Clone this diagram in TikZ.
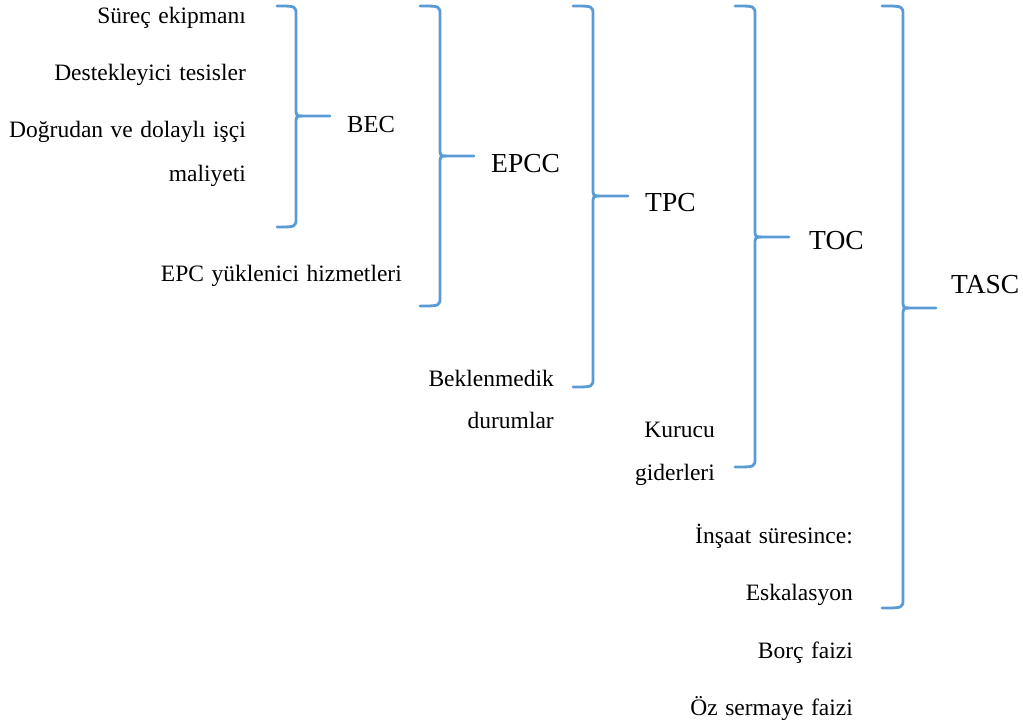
\documentclass[tikz,border=0pt]{standalone}
\usepackage{fontspec}
\setmainfont{Liberation Serif}
\definecolor{bracecol}{HTML}{5B9BD5}
\newcommand\itemfont{\fontsize{23.5}{27}\selectfont\spaceskip 7.5pt plus 1pt minus 1pt\relax}
\tikzset{
 small/.style={font=\itemfont, inner sep=0pt, anchor=base east},
 big/.style={font=\fontsize{27.5}{31}\selectfont, inner sep=0pt, anchor=base west},
 bracepath/.style={draw=bracecol, line width=2.8pt, line cap=round, line join=round}
}
\newcommand\drawbrace[6]{% x0, xs, ytop, ymid, ybot, xtip
 \draw[bracepath] (#1,#3) .. controls (#2,#3) .. (#2,#3+9) -- (#2,#4-9) .. controls (#2,#4) .. (#2+6,#4) -- (#6,#4);
 \draw[bracepath] (#2+6,#4) .. controls (#2,#4) .. (#2,#4+9) -- (#2,#5-9) .. controls (#2,#5) .. (#1,#5);
}
\begin{document}
\begin{tikzpicture}[x=1pt,y=-1pt]
\useasboundingbox (0,0) rectangle (1023,722);
% braces
\drawbrace{277}{296}{6}{116}{227}{330}
\drawbrace{420}{440}{6}{156}{306}{474}
\drawbrace{573}{593}{6}{196}{387}{628}
\drawbrace{735}{755}{6}{237}{467}{789}
\drawbrace{882}{903}{6}{308}{608}{936}
% level 1 items
\node[small] (s1) at (246,24) {Süreç ekipmanı};
\node[small] (s2) at (246,81) {Destekleyici tesisler};
\node[small] (s3) at (246,138) {Doğrudan ve dolaylı işçi};
\node[small] (s4) at (246,182) {maliyeti};
\node[small] (epc) at (402,281) {EPC yüklenici hizmetleri};
\node[small] (bk1) at (554,386) {Beklenmedik};
\node[small] (bk2) at (554,428) {durumlar};
\node[small] (ku1) at (715,437) {Kurucu};
\node[small] (ku2) at (715,480) {giderleri};
\node[small] (in1) at (853,543) {İnşaat süresince:};
\node[small] (in2) at (853,600) {Eskalasyon};
\node[small] (in3) at (853,658) {Borç faizi};
\node[small] (in4) at (853,715) {Öz sermaye faizi};
% labels
\node[big, font=\fontsize{24.5}{28}\selectfont] (bec) at (347,133) {BEC};
\node[big] (epcc) at (491,173) {EPCC};
\node[big] (tpc) at (645,212) {TPC};
\node[big] (toc) at (809,250) {TOC};
\node[big] (tasc) at (951,294) {TASC};
\end{tikzpicture}
\end{document}
